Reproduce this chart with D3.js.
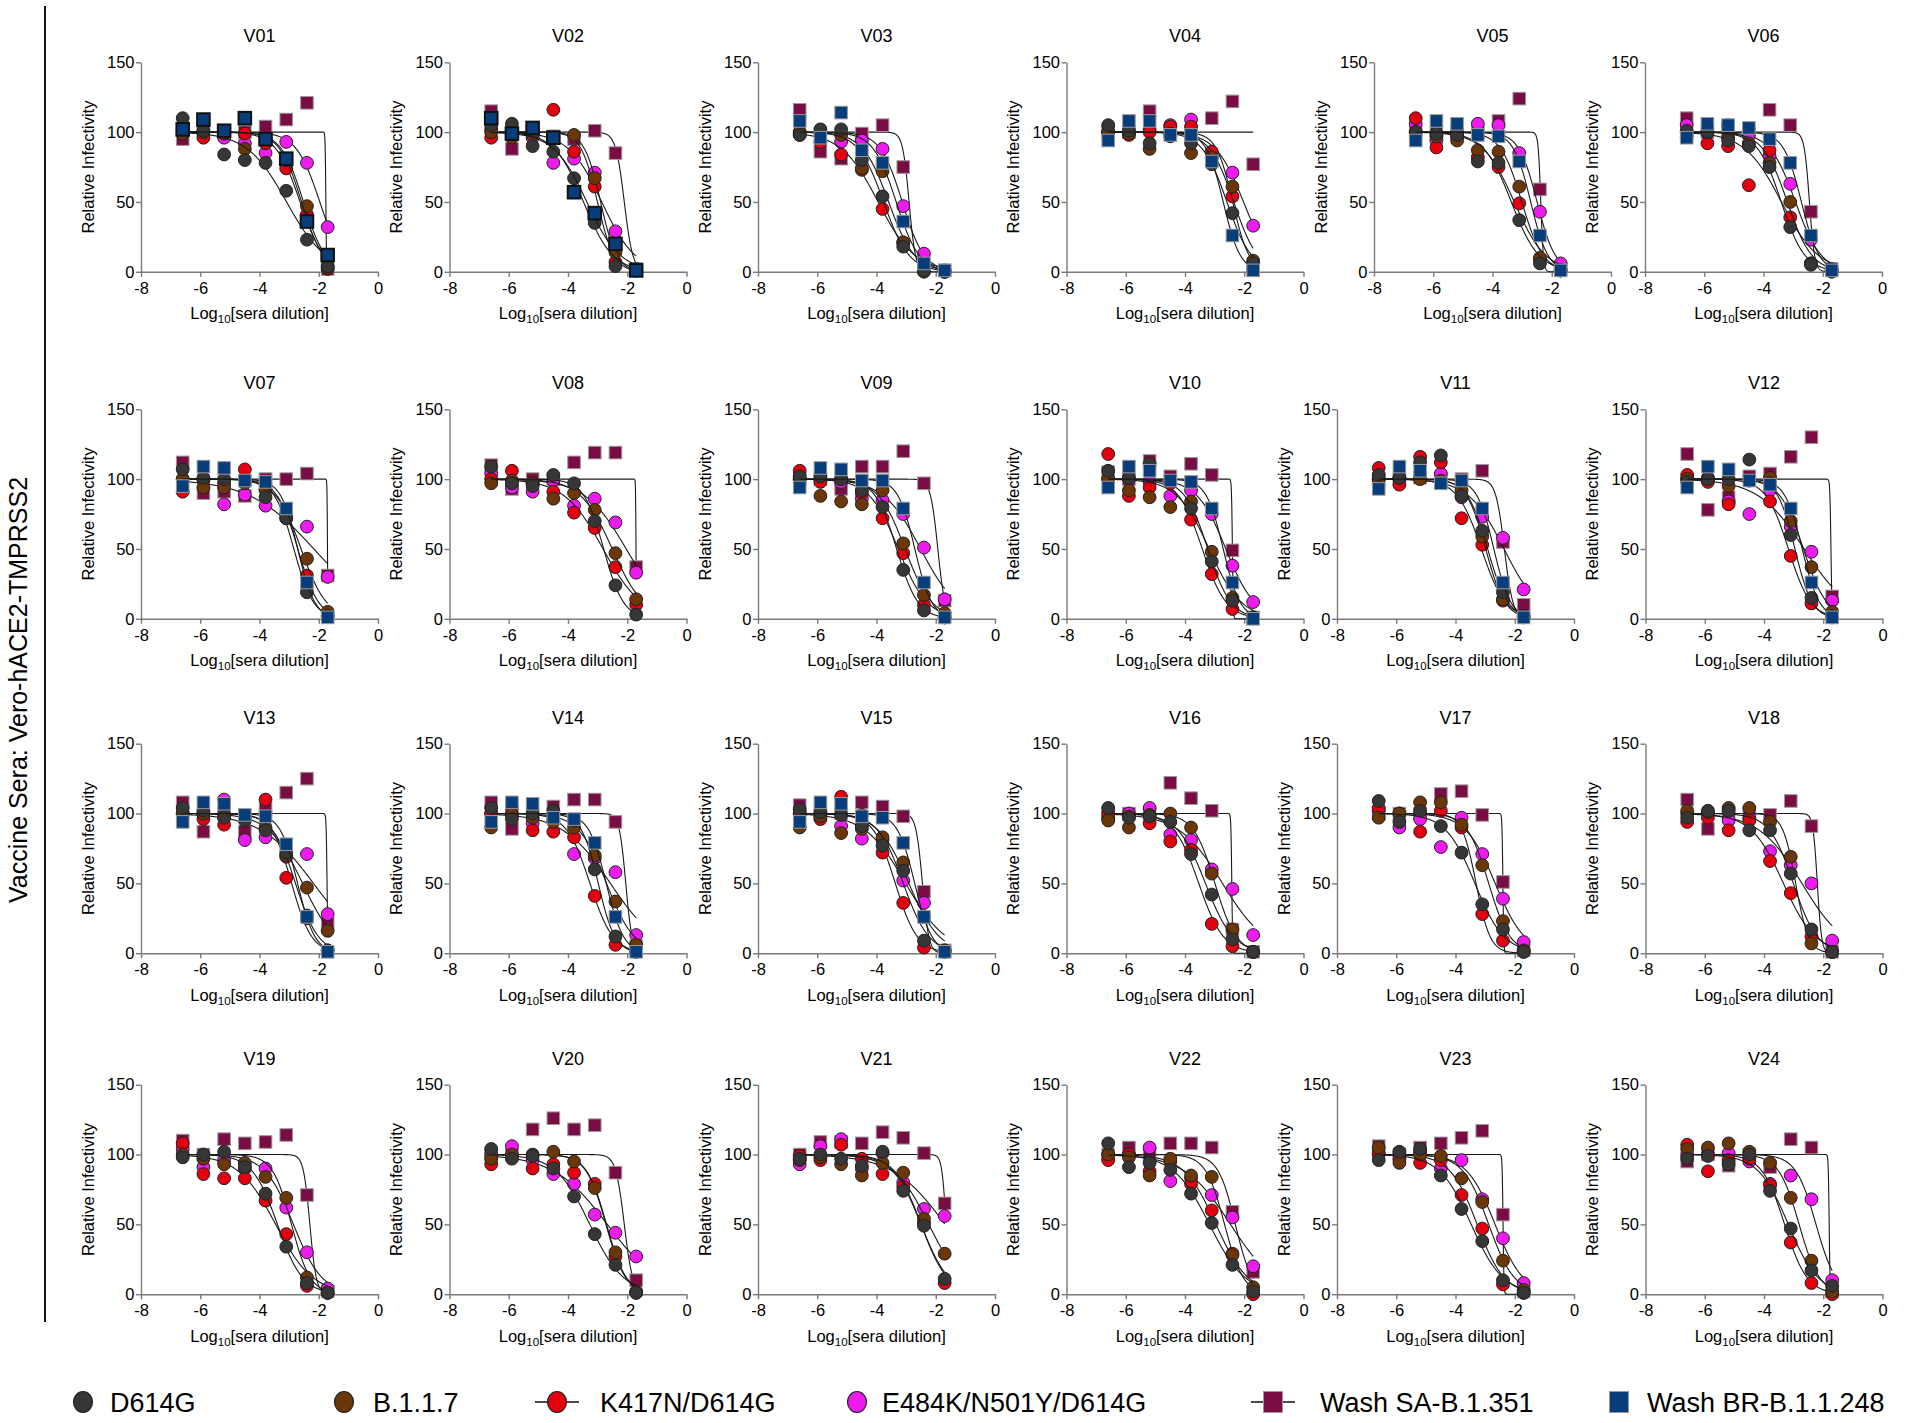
<!DOCTYPE html>
<html><head><meta charset="utf-8">
<script src="https://cdn.jsdelivr.net/npm/d3@7"></script>
<style>body{margin:0;background:#fff}</style>
</head><body>
<script>
// ---------------- DATA ----------------
const panels = ["V01","V02","V03","V04","V05","V06","V07","V08","V09","V10","V11","V12",
                "V13","V14","V15","V16","V17","V18","V19","V20","V21","V22","V23","V24"];
const logDilution = [-6.592, -5.893, -5.194, -4.495, -3.796, -3.097, -2.398, -1.699];
const xTicks = [-8, -6, -4, -2, 0];
const yTicks = [0, 50, 100, 150];
const seriesNames = ["D614G", "B.1.1.7", "K417N/D614G", "E484K/N501Y/D614G", "Wash SA-B.1.351", "Wash BR-B.1.1.248"];

const d614g = [
 [110,101,84,80,78,58,23,4],[105,106,90,86,67,35,4,1],[98,102,102,80,54,18,1,0],[105,101,92,97,92,77,42,6],
 [100,99,98,79,78,37,6,1],[101,100,94,90,75,32,5,0],[107,101,100,99,87,72,19,2],[109,97,95,103,97,70,24,3],
 [102,102,100,92,80,35,6,1],[106,101,111,99,79,41,13,1],[103,101,112,117,88,63,19,2],[98,100,100,114,97,60,15,2],
 [104,102,97,95,88,72,27,2],[104,96,100,102,95,60,12,1],[103,101,99,91,77,59,9,1],[104,97,98,94,71,42,10,1],
 [109,94,102,91,72,35,17,1],[97,102,102,88,88,57,17,1],[98,100,102,91,72,34,8,1],[104,97,99,90,70,43,21,1],
 [97,100,97,92,102,74,49,11],[108,91,94,89,72,51,21,2],[96,102,104,85,61,38,10,1],[97,99,93,100,74,47,17,6]];
const b117 = [
 [99,100,99,88,95,80,47,3],[100,96,98,96,98,67,14,1],[100,99,98,74,72,21,0,0],[100,99,88,99,85,82,61,8],
 [100,97,94,87,86,61,10,1],[97,100,96,92,78,50,6,1],[100,94,94,97,92,75,43,5],[97,99,97,86,90,78,47,14],
 [100,88,84,82,92,54,17,4],[100,92,87,80,84,48,15,1],[100,101,100,99,92,59,14,2],[100,100,95,99,101,70,37,5],
 [100,100,99,97,90,70,47,16],[90,99,97,94,90,70,37,6],[90,98,86,89,83,65,26,2],[95,90,99,100,90,57,17,1],
 [97,100,108,108,92,63,23,2],[102,101,104,104,94,69,7,1],[100,97,93,94,84,69,12,1],[97,100,100,102,95,76,30,2],
 [96,98,93,85,94,87,54,29],[100,98,85,97,85,84,28,5],[105,94,100,99,83,66,24,3],[104,105,108,102,94,69,24,2]];
const k417n = [
 [99,96,99,99,92,74,41,2],[96,100,99,116,86,61,7,1],[100,93,84,73,45,21,4,0],[100,98,100,104,104,86,54,2],
 [110,89,97,82,75,49,9,1],[100,92,90,62,87,39,6,1],[91,100,97,107,93,75,31,2],[100,106,97,91,76,65,37,10],
 [106,98,100,90,72,47,10,1],[118,88,94,97,71,32,7,1],[108,96,116,112,72,53,13,1],[103,98,82,99,84,45,11,1],
 [99,96,92,97,110,54,25,2],[100,104,88,87,83,41,6,1],[100,96,112,99,72,36,4,1],[100,98,93,80,74,21,5,1],
 [104,100,87,102,90,28,9,1],[94,97,88,95,66,43,12,1],[108,86,83,83,67,43,6,1],[93,99,90,93,87,79,27,1],
 [99,96,107,97,86,77,51,8],[96,100,88,95,79,60,29,0],[101,97,94,96,71,47,7,1],[107,88,96,97,78,37,8,0]];
const e484k = [
 [102,100,96,92,85,93,78,32],[102,100,96,78,81,71,29,2],[98,100,93,94,88,47,13,1],[100,100,102,105,109,82,71,33],
 [106,94,100,106,105,85,43,6],[105,100,105,98,83,63,23,2],[100,99,82,89,81,72,66,30],[104,94,91,99,81,86,69,33],
 [100,100,98,86,85,75,51,14],[100,100,98,88,92,75,38,12],[100,100,101,104,87,73,58,21],[100,101,84,75,92,66,48,13],
 [100,100,110,81,83,69,71,28],[100,100,93,95,71,68,58,13],[100,98,91,82,81,52,36,2],[97,100,104,85,81,60,46,13],
 [102,90,96,76,97,71,39,8],[100,100,95,97,73,63,50,9],[104,91,96,90,90,62,30,4],[100,106,96,86,79,57,44,27],
 [93,106,111,90,101,80,61,56],[100,100,105,81,83,71,55,20],[100,100,102,90,96,68,40,8],[100,100,101,95,79,85,68,10]];
const washSA = [
 [95,100,100,100,104,109,121,2],[115,88,100,97,95,101,85,2],[116,86,81,99,105,75,3,1],[100,100,115,100,100,110,122,77],
 [100,99,100,100,108,124,59,2],[110,100,100,100,116,105,43,2],[112,90,91,88,100,100,104,31],[110,93,100,100,112,119,119,37],
 [100,100,93,109,109,120,97,13],[105,100,113,102,111,103,49,1],[100,100,101,100,100,106,55,10],[118,78,87,102,104,116,130,16],
 [108,87,100,87,103,115,125,21],[108,89,100,105,110,110,94,5],[106,100,100,108,105,98,44,2],[100,100,100,122,111,102,17,1],
 [100,100,100,114,116,99,51,2],[110,89,100,100,99,109,91,1],[110,100,111,108,109,114,71,2],[100,100,118,126,118,121,87,10],
 [100,109,109,108,116,112,101,65],[100,105,100,108,108,105,59,16],[106,100,105,108,112,117,57,2],[95,100,92,100,91,111,105,2]];
const washBR = [
 [102,109,101,110,95,81,36,12],[110,99,103,96,57,42,20,1],[108,96,114,87,78,36,6,1],[94,108,108,98,98,79,26,1],
 [94,108,106,98,97,79,26,1],[96,106,105,103,95,78,26,1],[95,109,108,99,98,79,26,1],null,
 [94,108,107,99,99,79,26,1],[94,109,106,99,98,79,26,0],[93,109,106,97,99,79,26,1],[94,109,107,99,96,79,26,1],
 [94,108,107,99,98,78,26,1],[94,108,107,97,96,79,26,1],[94,108,107,98,97,79,26,1],null,
 null,null,null,null,null,null,null,null];
// Fitted (log IC50, Hill) for the Wash SA-B.1.351 curves
const saLogIC50 = [-1.76,-2.1,-2.9,-1.0,-2.37,-2.45,-1.705,-1.704,-1.93,-2.4,-2.35,-1.74,
                   -1.72,-2.05,-2.45,-2.42,-2.4,-2.2,-2.3,-2.1,-1.65,-2.3,-2.395,-1.8];
const saHill    = [40,3,4,10,10,5,60,60,3.5,30,3,25,30,4,4,30,30,6,4,3,6,1.5,30,30];
const boldBRPanels = ["V01","V02"];

// ---------------- STYLE / LAYOUT ----------------
const FONT = "'Liberation Sans', Arial, Helvetica, sans-serif";
const colors = ["#363636", "#6b3608", "#e3000f", "#ee1bee", "#7a0c44", "#083d7b"];
const colsRow0 = [141, 449.5, 758, 1066.5, 1374, 1645];
const colsRowN = [141, 449.5, 758, 1066.5, 1337, 1645.5];
const rowTop = [62.3, 409.3, 743.7, 1084.7];
const PW = 237, PH = 209.5;

const svg = d3.select("body").append("svg").attr("width", 1920).attr("height", 1423)
  .attr("font-family", FONT);
svg.append("rect").attr("width", 1920).attr("height", 1423).attr("fill", "#fff");

function logistic(x, c, h) { return 100 / (1 + Math.pow(10, h * (x - c))); }
function fitCurve(vals) {
  const sse = (c, h) => { let s = 0; for (let i = 0; i < vals.length; i++) { const d = vals[i] - logistic(logDilution[i], c, h); s += d * d; } return s; };
  let best = [-3, 1], be = Infinity;
  for (let c = -7; c <= -0.5; c += 0.05) for (let h = 0.3; h <= 6; h += 0.1) { const e = sse(c, h); if (e < be) { be = e; best = [c, h]; } }
  const [bc, bh] = best;
  for (let c = bc - 0.06; c <= bc + 0.06; c += 0.005) for (let h = Math.max(0.2, bh - 0.12); h <= bh + 0.12; h += 0.01) { const e = sse(c, h); if (e < be) { be = e; best = [c, h]; } }
  return best;
}

const allSeries = [d614g, b117, k417n, e484k, washSA, washBR];
const drawOrder = [4, 3, 2, 1, 0, 5];

panels.forEach((name, i) => {
  const r = Math.floor(i / 6), c = i % 6;
  const x0 = (r === 0 ? colsRow0 : colsRowN)[c];
  const y0 = rowTop[r];
  const g = svg.append("g").attr("transform", `translate(${x0},${y0})`);
  const xs = d3.scaleLinear().domain([-8, 0]).range([0, PW]);
  const ys = d3.scaleLinear().domain([0, 150]).range([PH, 0]);

  const xa = g.append("g").attr("transform", `translate(0,${PH})`)
    .call(d3.axisBottom(xs).tickValues(xTicks).tickFormat(d => String(d)).tickSize(5).tickPadding(5).tickSizeOuter(0));
  const ya = g.append("g")
    .call(d3.axisLeft(ys).tickValues(yTicks).tickFormat(d => String(d)).tickSize(5).tickPadding(1.5).tickSizeOuter(0));
  [xa, ya].forEach(a => {
    a.attr("font-family", FONT).attr("font-size", 16.5);
    a.selectAll("path,line").attr("stroke", "#7a7a7a").attr("stroke-width", 1.4);
    a.selectAll("text").attr("fill", "#000");
  });

  g.append("text").attr("x", PW / 2).attr("y", -20).attr("text-anchor", "middle")
    .attr("font-size", 18).attr("fill", "#000").text(name);
  const xl = g.append("text").attr("x", PW / 2).attr("y", PH + 47.5).attr("text-anchor", "middle")
    .attr("font-size", 16.5).attr("fill", "#000");
  xl.append("tspan").text("Log");
  xl.append("tspan").attr("font-size", 11.5).attr("dy", 4).text("10");
  xl.append("tspan").attr("dy", -4).text("[sera dilution]");
  g.append("text").attr("transform", `translate(-47.5,${PH / 2}) rotate(-90)`)
    .attr("text-anchor", "middle").attr("font-size", 16.5).attr("fill", "#000").text("Relative Infectivity");

  const line = d3.line().x(d => xs(d[0])).y(d => ys(d[1]));
  const xsamp = d3.range(0, 401).map(k => logDilution[0] + (logDilution[7] - logDilution[0]) * k / 400);

  drawOrder.forEach(s => {
    const vals = allSeries[s][i];
    if (!vals) return;
    const p = s === 4 ? [saLogIC50[i], saHill[i]] : fitCurve(vals);
    g.append("path").datum(xsamp.map(x => [x, logistic(x, p[0], p[1])]))
      .attr("d", line).attr("fill", "none").attr("stroke", "#1a1a1a").attr("stroke-width", 1.1);
    const pts = vals.map((v, k) => [logDilution[k], v]);
    if (s >= 4) {
      const bold = s === 5 && boldBRPanels.includes(name);
      g.selectAll(null).data(pts).enter().append("rect")
        .attr("x", d => xs(d[0]) - 6.3).attr("y", d => ys(d[1]) - 6.3)
        .attr("width", 12.6).attr("height", 12.6).attr("fill", colors[s])
        .attr("stroke", bold ? "#111" : "#9a9a9a").attr("stroke-width", bold ? 2 : 1);
    } else {
      g.selectAll(null).data(pts).enter().append("circle")
        .attr("cx", d => xs(d[0])).attr("cy", d => ys(d[1])).attr("r", 6.4)
        .attr("fill", colors[s]).attr("stroke", "#222").attr("stroke-width", 1);
    }
  });
});

// side label and divider
svg.append("line").attr("x1", 45).attr("x2", 45).attr("y1", 6).attr("y2", 1322)
  .attr("stroke", "#111").attr("stroke-width", 2);
svg.append("text").attr("transform", "translate(27,690) rotate(-90)").attr("text-anchor", "middle")
  .attr("font-size", 25).attr("fill", "#000").text("Vaccine Sera: Vero-hACE2-TMPRSS2");

// legend
const legMarkerX = [83, 344, 557, 857, 1273, 1619];
const legTextX = [110, 373, 600, 882, 1320, 1647];
const legY = 1402;
const withLine = [false, false, true, false, true, false];
seriesNames.forEach((nm, s) => {
  const lg = svg.append("g");
  if (withLine[s]) lg.append("line").attr("x1", legMarkerX[s] - 22).attr("x2", legMarkerX[s] + 22)
    .attr("y1", legY).attr("y2", legY).attr("stroke", "#111").attr("stroke-width", 1.6);
  if (s >= 4) lg.append("rect").attr("x", legMarkerX[s] - 9.5).attr("y", legY - 10.5).attr("width", 19).attr("height", 21)
    .attr("fill", colors[s]).attr("stroke", "#999").attr("stroke-width", 1);
  else lg.append("ellipse").attr("cx", legMarkerX[s]).attr("cy", legY).attr("rx", 9.5).attr("ry", 10.5)
    .attr("fill", colors[s]).attr("stroke", "#222").attr("stroke-width", 1.2);
  lg.append("text").attr("x", legTextX[s]).attr("y", legY + 9.5).attr("font-size", 27).attr("fill", "#000").text(nm);
});
</script>
</body></html>
